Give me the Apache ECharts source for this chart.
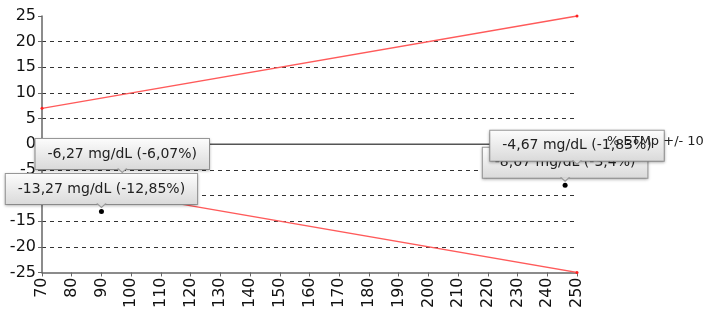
<!DOCTYPE html>
<html>
<head>
<meta charset="utf-8">
<script src="https://cdn.jsdelivr.net/npm/echarts@6/dist/echarts.min.js"></script>
<style>
    html, body { margin: 0; padding: 0; background: #fff; }
    #chart { width: 711px; height: 311px; }
</style>
</head>
<body>
<div id="chart"></div>
<script>
// limits +/- 10 %
var limitX = [70, 250];
var upperY = [7, 25];
var lowerY = [-7, -25];
var zeroY = [0, 0];

// measured points, in drawing order (last one on top)
var pointX = [97, 90, 246, 250];
var pointY = [-6.27, -13.1, -8.0, -4.67];
var pointLabels = [
    '-6,27 mg/dL (-6,07%)',
    '-13,27 mg/dL (-12,85%)',
    '-8,67 mg/dL (-3,4%)',
    '-4,67 mg/dL (-1,83%)'
];

var legendName = '% ETMp +/- 10';

function pairs(xs, ys) {
    return xs.map(function (x, i) { return [x, ys[i]]; });
}

var chart = echarts.init(document.getElementById('chart'));

var labelBg = new echarts.graphic.LinearGradient(0, 0, 0, 1, [
    { offset: 0, color: '#fdfdfd' },
    { offset: 1, color: '#d9d9d9' }
]);

var option = {
    animation: false,
    textStyle: { fontFamily: 'DejaVu Sans' },
    grid: { left: 42, right: 134, top: 16, bottom: 37, containLabel: false },
    legend: {
        data: [legendName],
        left: 576,
        top: 135,
        padding: 0,
        z: 20,
        itemWidth: 25,
        itemHeight: 14,
        itemGap: 5,
        itemStyle: { opacity: 0 },
        lineStyle: { opacity: 0 },
        textStyle: { fontSize: 13, color: '#222', fontFamily: 'DejaVu Sans' }
    },
    xAxis: {
        type: 'value',
        min: 70,
        max: 250,
        interval: 10,
        axisLine: { show: true, onZero: false, lineStyle: { color: '#666', width: 1.5 } },
        axisTick: { show: true, length: 4, lineStyle: { color: '#666' } },
        axisLabel: { rotate: 90, margin: 5, fontSize: 16, color: '#111', fontFamily: 'DejaVu Sans' },
        splitLine: { show: false }
    },
    yAxis: {
        type: 'value',
        min: -25,
        max: 25,
        interval: 5,
        axisLine: { show: true, onZero: false, lineStyle: { color: '#666', width: 1.5 } },
        axisTick: { show: true, length: 4, lineStyle: { color: '#666' } },
        axisLabel: { margin: 6, fontSize: 16, color: '#111', fontFamily: 'DejaVu Sans' },
        splitLine: {
            show: true,
            showMinLine: false,
            showMaxLine: false,
            lineStyle: { color: '#333', type: [4, 4], width: 1 }
        }
    },
    series: [
        {
            name: 'zero',
            type: 'line',
            data: pairs(limitX, zeroY),
            symbol: 'none',
            lineStyle: { color: '#555', width: 1.5 },
            z: 3
        },
        {
            name: legendName,
            type: 'line',
            data: pairs(limitX, upperY),
            symbol: 'circle',
            symbolSize: 3,
            showAllSymbol: true,
            lineStyle: { color: '#ff5a5a', width: 1.3 },
            itemStyle: { color: '#ff2020' },
            z: 3
        },
        {
            name: legendName,
            type: 'line',
            data: pairs(limitX, lowerY),
            symbol: 'circle',
            symbolSize: 3,
            showAllSymbol: true,
            lineStyle: { color: '#ff5a5a', width: 1.3 },
            itemStyle: { color: '#ff2020' },
            z: 3
        },
        {
            name: 'points',
            type: 'scatter',
            data: pairs(pointX, pointY),
            symbol: 'circle',
            symbolSize: 5,
            itemStyle: { color: '#000', opacity: 1 },
            z: 10,
            label: {
                show: true,
                position: 'top',
                distance: 5,
                formatter: function (p) { return pointLabels[p.dataIndex]; },
                fontSize: 14,
                color: '#222',
                fontFamily: 'DejaVu Sans',
                backgroundColor: labelBg,
                borderColor: '#9a9a9a',
                borderWidth: 1,
                padding: [8, 12, 8, 12],
                shadowColor: 'rgba(0,0,0,0.25)',
                shadowBlur: 3,
                shadowOffsetY: 1
            }
        },
        {
            // little pointers under the callouts
            name: 'pointer',
            type: 'scatter',
            data: pairs(pointX, pointY),
            symbol: 'path://M0 0L5 5L10 0',
            symbolSize: [9, 4],
            symbolOffset: [0, -6],
            itemStyle: { color: '#d9d9d9', borderColor: '#9a9a9a', borderWidth: 1, opacity: 1 },
            silent: true,
            z: 11
        }
    ]
};

chart.setOption(option);
</script>
</body>
</html>
